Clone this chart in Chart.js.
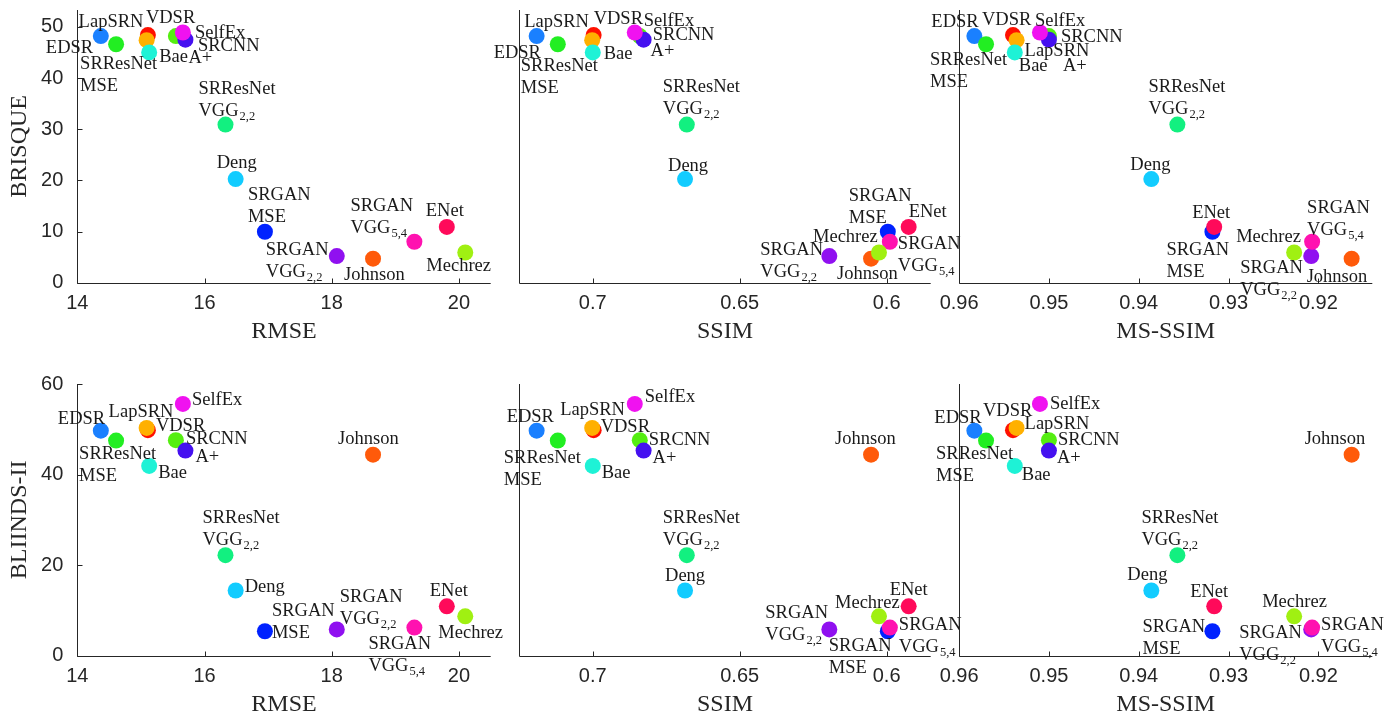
<!DOCTYPE html>
<html>
<head>
<meta charset="utf-8">
<script src="https://cdn.jsdelivr.net/npm/chart.js@4.4.0/dist/chart.umd.min.js"></script>
<style>
  body { margin: 0; background: #fff; }
  #wrap { position: relative; width: 1400px; height: 719px; }
  #wrap canvas { position: absolute; left: 0; top: 0; }
</style>
</head>
<body>
<div id="wrap">
  <canvas id="p1" width="1400" height="719"></canvas>
  <canvas id="p2" width="1400" height="719"></canvas>
  <canvas id="p3" width="1400" height="719"></canvas>
  <canvas id="p4" width="1400" height="719"></canvas>
  <canvas id="p5" width="1400" height="719"></canvas>
  <canvas id="p6" width="1400" height="719"></canvas>
</div>
<script>
// methods, in drawing order
var methods = ['EDSR', 'SRResNet MSE', 'VDSR', 'LapSRN', 'Bae', 'SRCNN', 'A+', 'SelfEx',
  'SRResNet VGG2,2', 'Deng', 'SRGAN MSE', 'SRGAN VGG2,2', 'SRGAN VGG5,4', 'ENet', 'Johnson', 'Mechrez'];
var labelText = ['EDSR', 'SRResNet\nMSE', 'VDSR', 'LapSRN', 'Bae', 'SRCNN', 'A+', 'SelfEx',
  'SRResNet\nVGG_{2,2}', 'Deng', 'SRGAN\nMSE', 'SRGAN\nVGG_{2,2}', 'SRGAN\nVGG_{5,4}', 'ENet', 'Johnson', 'Mechrez'];
var colors = ['#1a80ff', '#22ee22', '#ff1000', '#ffb000', '#1ef2d6', '#55ee11', '#4510f0', '#f012f0',
  '#12f080', '#12ccff', '#0022ff', '#9010f0', '#ff12b0', '#ff0a5a', '#ff5a0a', '#a0f012'];

var rmse    = [14.37, 14.61, 15.11, 15.09, 15.13, 15.55, 15.70, 15.66, 16.33, 16.49, 16.95, 18.08, 19.30, 19.81, 18.65, 20.10];
var ssim    = [0.7191, 0.7119, 0.6997, 0.7002, 0.7000, 0.6840, 0.6827, 0.6857, 0.6680, 0.6686, 0.5996, 0.6195, 0.5989, 0.5925, 0.6053, 0.6026];
var msssim  = [0.9583, 0.9570, 0.9540, 0.9536, 0.9538, 0.9500, 0.9500, 0.9510, 0.9357, 0.9386, 0.9318, 0.9208, 0.9207, 0.9316, 0.9163, 0.9227];
var brisque = [48.2, 46.6, 48.4, 47.4, 45.0, 48.2, 47.5, 48.9, 30.9, 20.25, 9.96, 5.2, 8.0, 10.9, 4.7, 5.9];
var bliinds = [49.7, 47.5, 49.8, 50.3, 41.9, 47.6, 45.3, 55.6, 22.2, 14.4, 5.4, 5.8, 6.2, 10.9, 44.4, 8.7];

var rmseTicks    = [14, 16, 18, 20];
var ssimTicks    = [0.6, 0.65, 0.7];
var msssimTicks  = [0.92, 0.93, 0.94, 0.95, 0.96];
var brisqueTicks = [0, 10, 20, 30, 40, 50];
var bliindsTicks = [0, 20, 40, 60];

// label offsets (px) from the dot to the start of the first text baseline, per panel
var offP1 = [[-55,17],[-36,25],[-2,-12],[-68,-13],[10,10],[22,15],[3,23],[12,5],[-27,-31],[-19,-11],[-17,-32],[-71,-1],[-64,-31],[-21,-11],[-29,21],[-39,18]];
var offP2 = [[-43,22],[-37,27],[0,-11],[-68,-13],[11,7],[13,4],[7,16],[9,-7],[-24,-33],[-17,-8],[-39,-31],[-69,-1],[8,7],[0,-10],[-34,20],[-66,-11]];
var offP3 = [[-43,-9],[-56,21],[-31,-10],[8,16],[4,19],[12,6],[14,31],[-5,-7],[-29,-33],[-21,-9],[-46,23],[-71,17],[-5,-29],[-22,-9],[-45,23],[-58,-11]];
var offP4 = [[-43,-7],[-37,18],[8,1],[-38,-11],[9,12],[10,4],[10,11],[9,1],[-23,-32],[9,2],[7,-15],[3,-27],[-46,21],[-17,-10],[-35,-11],[-27,22]];
var offP5 = [[-30,-9],[-54,22],[7,2],[-32,-13],[9,12],[9,5],[9,12],[10,-2],[-24,-32],[-20,-9],[-59,20],[-64,-11],[9,2],[-19,-11],[-36,-11],[-44,-8]];
var offP6 = [[-40,-8],[-50,18],[-30,-14],[8,1],[7,14],[9,5],[8,12],[10,5],[-36,-32],[-24,-10],[-70,1],[-72,9],[9,2],[-24,-9],[-47,-11],[-32,-9]];

var axisColor = '#262626';
var colLeft = [77.3, 519.3, 959.1], colRight = [490.7, 930.7, 1372.3];
var rowTop = [10, 384], rowBottom = [282.7, 655.7];
var xAxisH = 63;

var axesPlugin = {
  id: 'mAxes',
  beforeDatasetsDraw: function(chart) {
    var ctx = chart.ctx, a = chart.chartArea;
    var xs = chart.scales.x, ys = chart.scales.y;
    var L = Math.round(a.left) + 0.5, B = Math.round(a.bottom) + 0.5;
    ctx.save();
    ctx.strokeStyle = axisColor;
    ctx.lineWidth = 1;
    ctx.beginPath();
    ctx.moveTo(L, a.top);
    ctx.lineTo(L, B);
    ctx.lineTo(a.right, B);
    xs.ticks.forEach(function(t) {
      var px = Math.round(xs.getPixelForValue(t.value)) + 0.5;
      ctx.moveTo(px, B);
      ctx.lineTo(px, B - 5);
    });
    if (ys.options.ticks.display) {
      ys.ticks.forEach(function(t) {
        var py = Math.round(ys.getPixelForValue(t.value)) + 0.5;
        ctx.moveTo(L, py);
        ctx.lineTo(L + 5, py);
      });
    }
    ctx.stroke();
    ctx.restore();
  }
};

var labelPlugin = {
  id: 'ptLabels',
  afterDatasetsDraw: function(chart, args, opts) {
    var ctx = chart.ctx;
    var pts = chart.getDatasetMeta(0).data;
    ctx.save();
    ctx.fillStyle = '#1a1a1a';
    ctx.textAlign = 'left';
    ctx.textBaseline = 'alphabetic';
    pts.forEach(function(p, i) {
      var off = opts.offsets[i];
      labelText[i].split('\n').forEach(function(line, k) {
        var x = p.x + off[0], y = p.y + off[1] + k * 22;
        var m = line.match(/^(.*?)_\{(.*)\}$/);
        var main = m ? m[1] : line;
        ctx.font = '18.5px "Liberation Serif"';
        ctx.fillText(main, x, y);
        if (m) {
          x += ctx.measureText(main).width;
          ctx.font = '12.5px "Liberation Serif"';
          ctx.fillText(m[2], x + 1, y + 4);
        }
      });
    });
    ctx.restore();
  }
};

// keep the plot boxes where they are: no extra room for half tick labels
function noEdgePadding(s) {
  s.paddingTop = 0; s.paddingBottom = 0; s.paddingLeft = 0; s.paddingRight = 0;
}

function xScale(min, max, reverse, ticks, title) {
  return {
    type: 'linear', position: 'bottom', min: min, max: max, reverse: reverse,
    grid: { display: false, drawTicks: false }, border: { display: false },
    afterBuildTicks: function(s) { s.ticks = ticks.map(function(v) { return { value: v }; }); },
    afterFit: function(s) { s.height = xAxisH; noEdgePadding(s); },
    ticks: { font: { family: 'Liberation Sans', size: 20 }, color: axisColor, padding: 9,
             maxRotation: 0, autoSkip: false, callback: function(v) { return String(v); } },
    title: { display: true, text: title, color: axisColor,
             font: { family: 'Liberation Serif', size: 24 }, padding: { top: 0, bottom: 0 } }
  };
}

function yScale(max, ticks, title, col) {
  var showLabels = col === 0;
  return {
    type: 'linear', position: 'left', min: 0, max: max,
    grid: { display: false, drawTicks: false }, border: { display: false },
    afterBuildTicks: function(s) { s.ticks = ticks.map(function(v) { return { value: v }; }); },
    afterFit: function(s) { s.width = showLabels ? colLeft[0] : 0; noEdgePadding(s); },
    ticks: { display: showLabels, font: { family: 'Liberation Sans', size: 20 }, color: axisColor, padding: 14 },
    title: { display: showLabels, text: title, color: axisColor,
             font: { family: 'Liberation Serif', size: 24 }, padding: { top: 5.6, bottom: 0 } }
  };
}

function makePanel(id, row, col, xv, yv, xs, ys, offsets) {
  var pts = xv.map(function(v, i) { return { x: v, y: yv[i] }; });
  return new Chart(document.getElementById(id), {
    type: 'scatter',
    data: { datasets: [{ data: pts, backgroundColor: colors, borderWidth: 0,
                         pointRadius: 8, pointHoverRadius: 8, clip: false }] },
    options: {
      responsive: false, animation: false, events: [], devicePixelRatio: 1,
      layout: { padding: {
        left: col === 0 ? 0 : colLeft[col],
        top: rowTop[row],
        right: 1400 - colRight[col],
        bottom: 719 - rowBottom[row] - xAxisH } },
      scales: { x: xs, y: ys },
      plugins: { legend: { display: false }, tooltip: { enabled: false },
                 ptLabels: { offsets: offsets } }
    },
    plugins: [axesPlugin, labelPlugin]
  });
}

makePanel('p1', 0, 0, rmse,   brisque, xScale(14, 20.5, false, rmseTicks, 'RMSE'),       yScale(53.3, brisqueTicks, 'BRISQUE', 0), offP1);
makePanel('p2', 0, 1, ssim,   brisque, xScale(0.585, 0.725, true, ssimTicks, 'SSIM'),    yScale(53.3, brisqueTicks, 'BRISQUE', 1), offP2);
makePanel('p3', 0, 2, msssim, brisque, xScale(0.914, 0.96, true, msssimTicks, 'MS-SSIM'), yScale(53.3, brisqueTicks, 'BRISQUE', 2), offP3);
makePanel('p4', 1, 0, rmse,   bliinds, xScale(14, 20.5, false, rmseTicks, 'RMSE'),       yScale(60, bliindsTicks, 'BLIINDS-II', 0), offP4);
makePanel('p5', 1, 1, ssim,   bliinds, xScale(0.585, 0.725, true, ssimTicks, 'SSIM'),    yScale(60, bliindsTicks, 'BLIINDS-II', 1), offP5);
makePanel('p6', 1, 2, msssim, bliinds, xScale(0.914, 0.96, true, msssimTicks, 'MS-SSIM'), yScale(60, bliindsTicks, 'BLIINDS-II', 2), offP6);
</script>
</body>
</html>
